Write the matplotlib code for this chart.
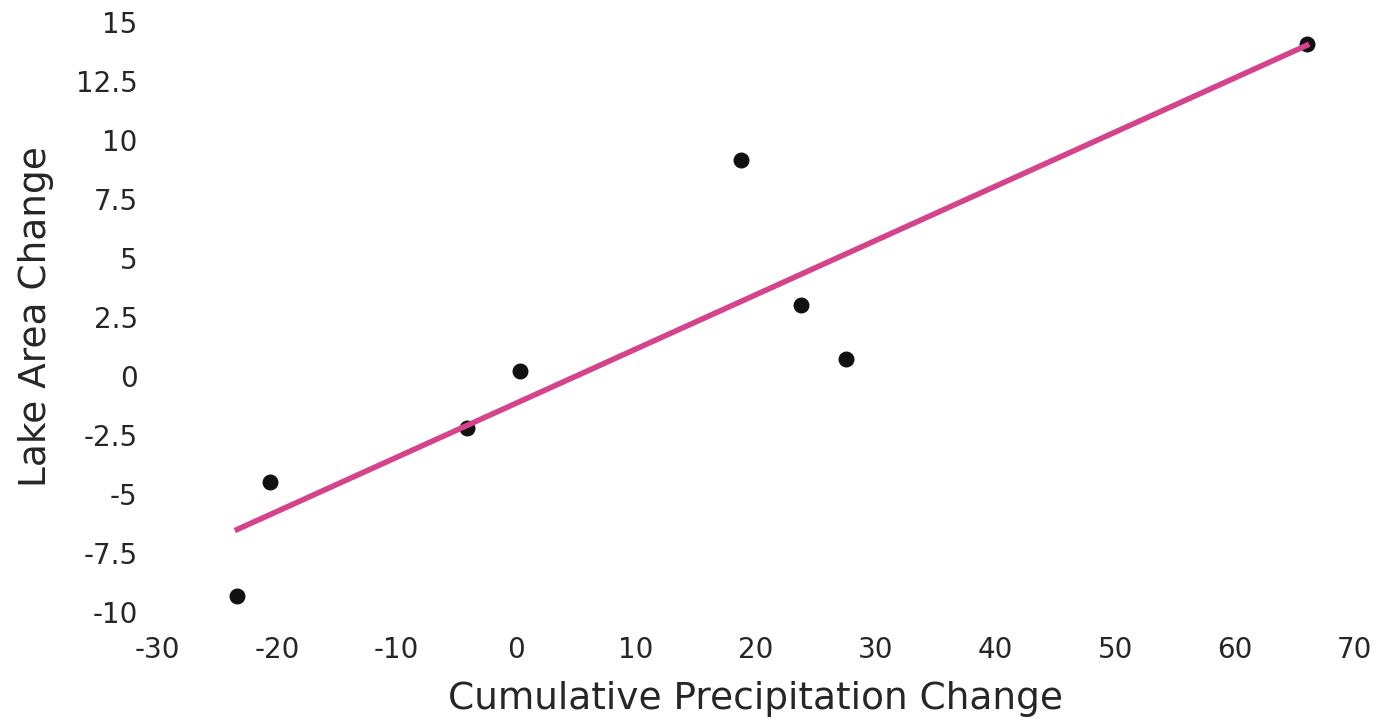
import numpy as np
import matplotlib
matplotlib.use("Agg")
import matplotlib.pyplot as plt
from matplotlib.ticker import FuncFormatter

precip_change = [-23.3, -20.6, -4.1, 0.3, 18.8, 23.8, 27.5, 66.0]
lake_change = [-9.3, -4.5, -2.2, 0.2, 9.15, 3.0, 0.7, 14.05]

x_ticks = [-30, -20, -10, 0, 10, 20, 30, 40, 50, 60, 70]
y_ticks = [-10, -7.5, -5, -2.5, 0, 2.5, 5, 7.5, 10, 12.5, 15]

plt.rcParams['axes.unicode_minus'] = False
text_color = "#262626"

fig = plt.figure(figsize=(13.78, 7.22), dpi=100)
ax = fig.add_axes([0.114, 0.152, 0.869, 0.818])

ax.scatter(precip_change, lake_change, s=110, color="#111111", zorder=2)

# least squares fit drawn over the data range
slope, intercept = np.polyfit(precip_change, lake_change, 1)
fit_x = np.array([min(precip_change), max(precip_change)])
ax.plot(fit_x, slope * fit_x + intercept, color="#d4448c", linewidth=4, zorder=3)

ax.set_xlim(-30, 70)
ax.set_ylim(-10, 15)
ax.set_xticks(x_ticks)
ax.set_yticks(y_ticks)
fmt = FuncFormatter(lambda v, p: "%g" % v)
ax.xaxis.set_major_formatter(fmt)
ax.yaxis.set_major_formatter(fmt)
ax.tick_params(length=0, labelsize=20, colors=text_color)
ax.tick_params(axis="x", pad=17)
ax.tick_params(axis="y", pad=14)

for s in ax.spines.values():
    s.set_visible(False)

ax.set_xlabel("Cumulative Precipitation Change", fontsize=27, color=text_color, labelpad=12)
ax.set_ylabel("Lake Area Change", fontsize=27, color=text_color, labelpad=16)

fig.savefig("out.png", dpi=100)
